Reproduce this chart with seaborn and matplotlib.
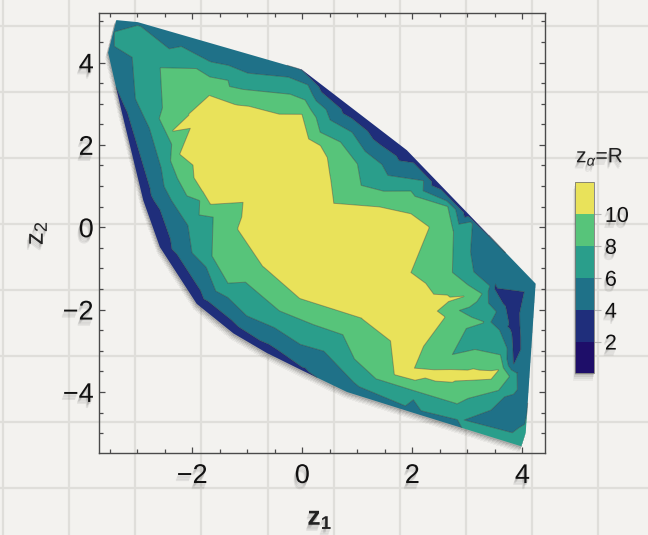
import matplotlib
matplotlib.use("Agg")
import numpy as np
import pandas as pd
import matplotlib.pyplot as plt
import matplotlib.tri as mtri
import matplotlib.patheffects as pe
import matplotlib.transforms as mtransforms
from matplotlib.colors import ListedColormap, BoundaryNorm
from matplotlib.cm import ScalarMappable
from matplotlib.lines import Line2D
from matplotlib.patches import Rectangle
from matplotlib.ticker import MultipleLocator
import seaborn as sns

# ---- sampled points (z1, z2) with their R value ----
# outer rim of the sampled region
rim_z1 = [-3.38, -2.99, -2.00, -1.00, -0.01, 0.40, 0.90, 1.40, 1.90, 2.45, 3.00, 3.60, 4.24,
          4.15, 4.06, 3.98, 2.00, 0.81, 0.00, -0.65, -1.25, -1.92, -2.59, -2.89, -3.30, -3.53]
rim_z2 = [5.03, 4.98, 4.59, 4.20, 3.83, 3.39, 2.88, 2.36, 1.87, 1.10, 0.33, -0.50, -1.37,
          -3.00, -4.99, -5.32, -4.50, -4.00, -3.48, -3.05, -2.58, -1.86, -0.48, 0.65, 2.90, 4.24]
rim_R = [5.2, 5.0, 5.0, 4.9, 3.9, 3.0, 2.6, 2.5, 2.6, 2.7, 3.0, 4.4, 4.8,
         5.0, 6.3, 6.6, 5.5, 4.6, 3.7, 3.0, 2.8, 2.8, 2.8, 2.8, 3.4, 5.0]

# points with R just above 6
mid6_z1 = [-3.41, -2.98, -2.44, -2.22, -1.67, -1.36, -0.99, -0.22, 0.10, 0.50, 0.90, 1.44, 1.55,
           2.20, 2.63, 3.06, 3.04, 3.10, 3.40, 3.38, 3.52, 3.42, 3.58, 3.48, 3.72, 3.90, 3.66,
           2.90, 2.02, 0.96, 0.40, -0.04, -1.01, -1.35, -1.74, -2.07, -2.37, -2.56, -3.01, -3.07, -3.41]
mid6_z2 = [4.73, 4.89, 4.32, 4.37, 4.00, 3.92, 3.72, 3.62, 3.45, 2.60, 2.30, 1.52, 1.25,
           1.12, 0.63, 0.12, -0.60, -1.10, -1.45, -1.85, -2.05, -2.30, -2.50, -2.68, -2.95, -3.55, -4.12,
           -4.69, -4.16, -3.78, -3.00, -2.83, -2.14, -1.70, -0.97, 0.04, 0.65, 1.45, 3.07, 4.12, 4.40]
mid6_R = [6.05, 6.05, 6.05, 6.10, 6.05, 6.05, 6.05, 6.05, 6.05, 6.05, 6.05, 6.05, 6.05,
          6.05, 6.05, 6.10, 6.05, 6.05, 6.05, 6.05, 6.05, 6.05, 6.05, 6.05, 6.05, 6.05, 6.05,
          6.05, 6.05, 6.05, 6.05, 6.05, 6.05, 6.05, 6.05, 6.05, 6.05, 6.05, 6.05, 6.05, 6.05]

# points with R just above 8
mid8_z1 = [-2.57, -1.92, -1.68, -1.36, -1.33, -0.22, 0.05, 0.15, 0.32, 0.69, 0.99, 1.06, 1.97,
           2.04, 2.64, 2.74, 2.72, 3.00, 3.26, 3.17, 2.84, 3.29, 2.97, 2.70, 3.60, 3.76, 3.56,
           2.99, 2.81, 2.02, 1.35, 0.96, 0.22, -0.41, -1.35, -1.63, -1.86, -2.27, -2.37, -2.59]
mid8_z2 = [3.86, 3.84, 3.64, 3.56, 3.41, 3.22, 3.08, 2.85, 2.30, 2.06, 1.54, 1.01, 0.87,
           0.75, 0.50, -0.10, -1.10, -1.40, -1.62, -1.80, -2.02, -2.30, -2.44, -3.11, -3.11, -3.62, -3.96,
           -4.16, -4.28, -3.96, -3.68, -3.20, -2.36, -2.02, -1.35, -0.71, 0.65, 1.21, 2.02, 2.63]
mid8_R = [8.05, 8.05, 8.05, 8.05, 8.05, 8.05, 8.05, 8.05, 8.05, 8.05, 8.05, 8.05, 8.05,
          8.05, 8.05, 8.05, 8.05, 8.05, 8.05, 8.05, 8.05, 8.05, 8.05, 8.05, 8.05, 8.05, 8.05,
          8.05, 8.05, 8.05, 8.05, 8.05, 8.05, 8.05, 8.05, 8.05, 8.05, 8.05, 8.05, 8.05]

# points with R just above 10
top_z1 = [-1.67, -0.01, 0.11, 0.32, 0.44, 0.56, 1.41, 1.96, 2.29, 2.38, 2.93, 2.44, 2.58, 2.02,
          3.56, 3.43, 2.05, 1.69, 1.62, 1.09, -0.04, -0.70, -1.16, -1.06, -1.67, -1.81, -1.96,
          -2.22, -2.35, -2.05]
top_z2 = [3.18, 2.73, 2.14, 1.98, 1.70, 0.57, 0.48, 0.32, 0.00, -1.64, -1.68, -2.04, -2.18, -3.43,
          -3.47, -3.68, -3.71, -3.58, -2.75, -2.20, -1.72, -0.95, -0.04, 0.62, 0.57, 0.88, 1.20,
          1.78, 2.34, 2.72]
top_R = [10.05, 10.05, 10.05, 10.05, 10.05, 10.05, 10.05, 10.05, 10.05, 10.05, 10.05, 10.05, 10.05,
         10.05, 10.05, 10.05, 10.05, 10.05, 10.05, 10.05, 10.05, 10.05, 10.05, 10.05, 10.05, 10.05,
         10.05, 10.05, 10.05, 10.05]

# core of the distribution
core_z1 = [-1.00, -0.30, 0.00, 1.40, 2.00, 2.00, 2.30, 2.70, 3.10, 3.40, 2.62,
           -1.20, -0.50, -1.95, -1.90, -1.45, -0.85, 0.35, 1.30]
core_z2 = [2.10, 1.40, 0.50, -1.10, -1.50, -2.80, -3.57, -3.58, -3.58, -3.56, -1.76,
           2.85, 2.55, 2.50, 1.60, 1.05, 0.10, 1.20, 0.05]
core_R = [11.3, 11.7, 11.6, 11.5, 11.0, 10.8, 10.6, 10.7, 10.6, 10.4, 10.4,
          10.6, 10.8, 10.5, 10.6, 10.7, 10.8, 10.6, 10.9]

# scattered interior points
extra_z1 = [-1.32, 2.66, 3.08, 3.15, 3.08, 3.08, 3.50, 4.02, 3.84, 3.78, 3.84, 3.86, 3.60, 3.98, 4.10]
extra_z2 = [0.38, -1.98, -2.04, -2.78, -1.60, -2.28, -1.49, -1.58, -3.31, -1.85, -2.45, -2.95,
            -4.55, -4.10, -2.30]
extra_R = [9.3, 9.2, 7.2, 7.2, 8.6, 8.5, 3.95, 3.95, 3.95, 3.0, 3.3, 3.4, 5.2, 5.0, 4.9]

levels = [0, 2, 4, 6, 8, 10, 12]
cbar_ticks = [2, 4, 6, 8, 10]
band_colors = ["#1e0e69", "#1f2e7b", "#1f7188", "#2a9e8b", "#57c47a", "#e9e25a"]

# ---- style ----
sns.set_theme(style="ticks")
plt.rcParams["font.family"] = ["Liberation Sans", "DejaVu Sans"]
plt.rcParams["mathtext.fontset"] = "custom"
plt.rcParams["mathtext.rm"] = "Liberation Sans"
plt.rcParams["mathtext.it"] = "Liberation Sans:italic"
plt.rcParams["mathtext.bf"] = "Liberation Sans:bold"

paper = "#f3f2ef"
frame = "#4a4a4a"

df = pd.concat(
    [pd.DataFrame({"z1": a, "z2": b, "R": c}) for a, b, c in [
        (rim_z1, rim_z2, rim_R), (mid6_z1, mid6_z2, mid6_R), (mid8_z1, mid8_z2, mid8_R),
        (top_z1, top_z2, top_R), (core_z1, core_z2, core_R), (extra_z1, extra_z2, extra_R)]],
    ignore_index=True)

cmap = ListedColormap(sns.color_palette(band_colors))
norm = BoundaryNorm(levels, cmap.N)

fig = plt.figure(figsize=(6.48, 5.35), dpi=100, facecolor=paper)

# grid-paper backdrop
for xp in [3, 69, 135, 201, 268, 334, 400, 466, 532, 598]:
    fig.add_artist(Line2D([xp / 648, xp / 648], [0, 1], transform=fig.transFigure,
                          color="#dfdeda", lw=1.6, zorder=-5))
for yp in [26, 92, 158, 224, 290, 356, 422, 488]:
    fig.add_artist(Line2D([0, 1], [1 - yp / 535, 1 - yp / 535], transform=fig.transFigure,
                          color="#dfdeda", lw=1.6, zorder=-5))

ax = fig.add_axes([0.1532, 0.1527, 0.6878, 0.8236])
ax.set_facecolor("none")

tri = mtri.Triangulation(df["z1"], df["z2"])

# soft drop shadow beneath the filled region
for dx, dy, a in [(-0.3, -0.8, 0.10), (-0.7, -1.6, 0.08), (-1.0, -2.4, 0.06),
                  (-1.4, -3.2, 0.05), (-1.8, -4.0, 0.04)]:
    off = mtransforms.offset_copy(ax.transData, fig=fig, x=dx, y=dy, units="points")
    ax.tricontourf(tri, df["R"], levels=[-1, 13], colors=["#000000"], alpha=a,
                   transform=off, zorder=1)

ax.tricontourf(tri, df["R"], levels=levels, cmap=cmap, norm=norm, zorder=2, antialiased=True)
ax.tricontour(tri, df["R"], levels=cbar_ticks, colors="#2a2a2a", linewidths=0.7,
              alpha=0.35, zorder=3)

ax.set_xlim(-3.69, 4.41)
ax.set_ylim(-5.49, 5.21)
ax.set_xticks([-2, 0, 2, 4])
ax.set_yticks([-4, -2, 0, 2, 4])
ax.xaxis.set_minor_locator(MultipleLocator(0.5))
ax.yaxis.set_minor_locator(MultipleLocator(0.5))
ax.tick_params(which="both", direction="in", top=True, right=True, color=frame, width=0.9)
ax.tick_params(which="major", length=4.5, labelsize=19.5, labelcolor="#111111")
ax.tick_params(axis="x", which="major", pad=7)
ax.tick_params(axis="y", which="major", pad=4)
ax.tick_params(which="minor", length=2.8)
for s in ax.spines.values():
    s.set_color(frame)
    s.set_linewidth(1.0)

text_shadow = [pe.SimplePatchShadow(offset=(-0.4 * k, -1.1 * k), shadow_rgbFace="#000000",
                                    alpha=0.07) for k in (1, 2, 3, 4)] + [pe.Normal()]
for t in ax.xaxis.get_major_ticks() + ax.yaxis.get_major_ticks():
    t.label1.set_path_effects(text_shadow)

fig.text(320 / 648, 1 - 519 / 535, r"$\mathbf{z}_{\mathbf{1}}$", ha="center", va="center",
         fontsize=19, color="#222222", path_effects=text_shadow)
fig.text(37 / 648, 1 - 233 / 535, r"$\mathregular{z_2}$", ha="center", va="center",
         rotation=90, fontsize=18.5, color="#222222", path_effects=text_shadow)

# legend bar
cx0, cy0, cw, ch = 0.8873, 0.3019, 0.0301, 0.3579
for k, a in [(1, 0.10), (2, 0.07), (3, 0.05), (4, 0.04)]:
    fig.add_artist(Rectangle((cx0 - 0.0006 * k, cy0 - 0.0035 * k), cw, ch,
                             transform=fig.transFigure, facecolor="black", alpha=a,
                             edgecolor="none", zorder=-1))
cax = fig.add_axes([cx0, cy0, cw, ch])
cb = fig.colorbar(ScalarMappable(norm=norm, cmap=cmap), cax=cax, ticks=cbar_ticks)
cb.outline.set_edgecolor("#777777")
cb.outline.set_linewidth(0.6)
cax.tick_params(direction="out", length=5, width=0.8, color="#b5b5b5", labelsize=15.5,
                pad=2.5, labelcolor="#111111")
cax.minorticks_off()
for lbl in cax.get_yticklabels():
    lbl.set_path_effects(text_shadow)

fig.text(600 / 648, 1 - 157 / 535, r"z$_{\alpha}$=R", ha="center", va="center",
         fontsize=15, color="#222222", path_effects=text_shadow)

fig.savefig("out.png", dpi=100, facecolor=paper)
